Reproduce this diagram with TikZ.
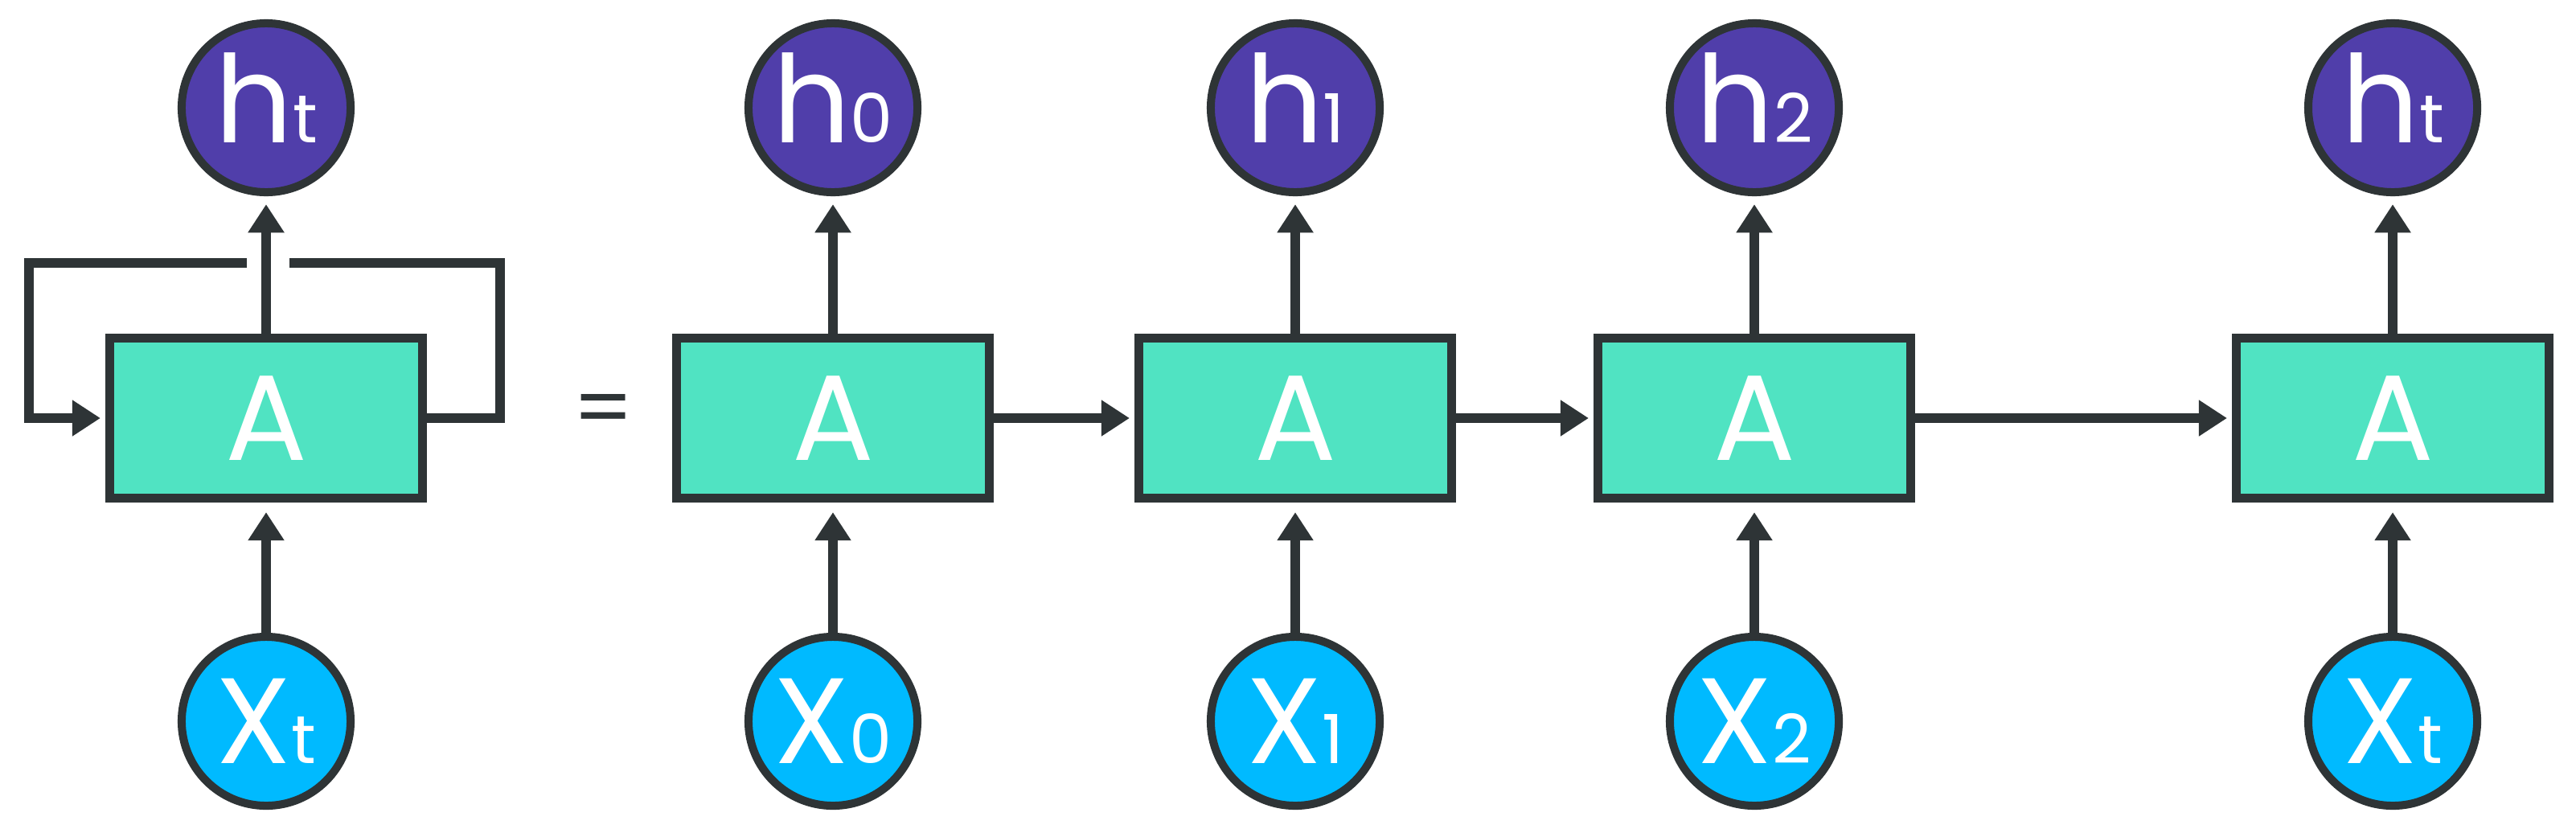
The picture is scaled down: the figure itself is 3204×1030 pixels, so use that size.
\documentclass[tikz,border=0pt]{standalone}
\usepackage{fontspec}
\setmainfont{Poppins}
\usetikzlibrary{arrows.meta}
\definecolor{hcol}{RGB}{80,62,170}
\definecolor{xcol}{RGB}{0,186,255}
\definecolor{acol}{RGB}{80,227,194}
\definecolor{lcol}{RGB}{46,52,54}
\newcommand{\mylbl}[2]{{\fontsize{43}{43}\selectfont #1}{\fontsize{24}{24}\selectfont #2}}
\begin{document}
\begin{tikzpicture}[x=0.01cm,y=-0.01cm,
  hnode/.style={circle, draw=lcol, line width=2.85pt, fill=hcol, minimum size=2.1cm, inner sep=0pt, text=white, text height=0.86cm, text depth=0cm},
  xnode/.style={circle, draw=lcol, line width=2.85pt, fill=xcol, minimum size=2.1cm, inner sep=0pt, text=white},
  cell/.style={rectangle, draw=lcol, line width=3.1pt, fill=acol, minimum width=3.89cm, minimum height=1.99cm, inner sep=0pt, text=white, font=\fontsize{43}{43}\selectfont},
  conn/.style={draw=lcol, line width=3.4pt},
  arr/.style={conn, -{Triangle[length=10pt, width=12.2pt]}},
]
\useasboundingbox (0,0) rectangle (3204,1030);

% rolled-up cell
\node[cell] (b0) at (331,520) {A};
\node[hnode] (h0) at (331,134) {\mylbl{h}{t}};
\node[xnode] (x0) at (331,897) {\mylbl{X}{t}};

% unrolled cells
\node[cell] (b1) at (1036,520) {A};
\node[cell] (b2) at (1611,520) {A};
\node[cell] (b3) at (2182,520) {A};
\node[cell] (b4) at (2976,520) {A};

\node[hnode] (h1) at (1036,134) {\mylbl{h}{0}};
\node[hnode] (h2) at (1611,134) {\mylbl{h}{1}};
\node[hnode] (h3) at (2182,134) {\mylbl{h}{2}};
\node[hnode] (h4) at (2976,134) {\mylbl{h}{t}};

\node[xnode] (x1) at (1036,897) {\mylbl{X}{0}};
\node[xnode] (x2) at (1611,897) {\mylbl{X}{1}};
\node[xnode] (x3) at (2182,897) {\mylbl{X}{2}};
\node[xnode] (x4) at (2976,897) {\mylbl{X}{t}};

\node[text=lcol, font=\fontsize{30}{30}\selectfont] (eq) at (751,517) {=};

% vertical arrows
\foreach \i in {0,...,4}{
  \draw[arr, shorten >=0.1cm] (b\i.north) -- (h\i.south);
  \draw[arr, shorten >=0.12cm] (x\i.north) -- (b\i.south);
}

% horizontal arrows
\draw[arr, shorten >=0.06cm] (b1.east) -- (b2.west);
\draw[arr, shorten >=0.06cm] (b2.east) -- (b3.west);
\draw[arr, shorten >=0.06cm] (b3.east) -- (b4.west);

% recurrent loop
\coordinate (lgapL) at (307,327);
\coordinate (lgapR) at (360,327);
\coordinate (lr) at (622,327);
\coordinate (ll) at (36,327);
\draw[conn] (b0.east) -| (lr) -- (lgapR);
\draw[arr, shorten >=0.06cm] (lgapL) -- (ll) |- (b0.west);
\end{tikzpicture}
\end{document}
